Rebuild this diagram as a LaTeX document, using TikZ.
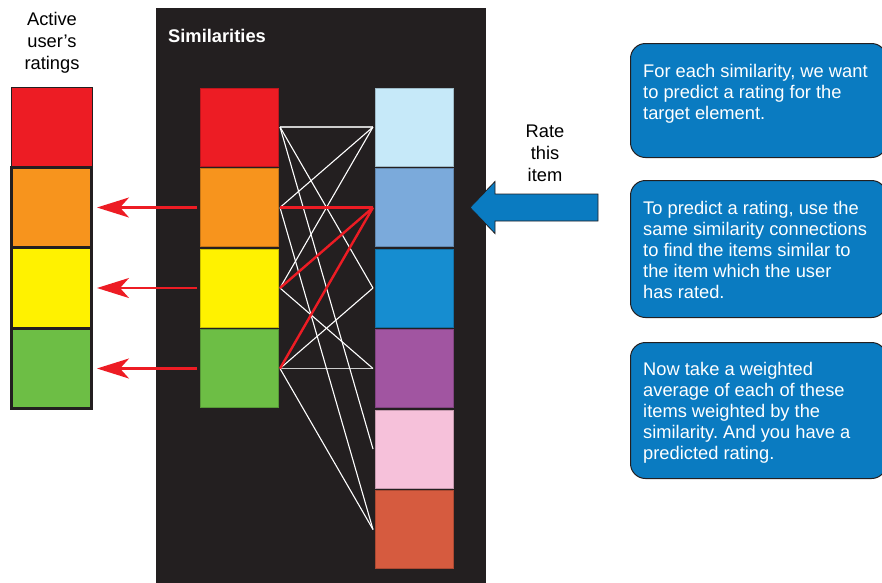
\documentclass[tikz,border=0pt]{standalone}
\usepackage{fontspec}
\setmainfont{Liberation Sans}
\usetikzlibrary{arrows.meta}
\frenchspacing
\definecolor{panel}{HTML}{231F20}
\definecolor{simred}{HTML}{ED1C24}
\definecolor{simorange}{HTML}{F7941D}
\definecolor{simyellow}{HTML}{FFF200}
\definecolor{simgreen}{HTML}{6DBE45}
\definecolor{itemA}{HTML}{C6E9F9}
\definecolor{itemB}{HTML}{7BAADB}
\definecolor{itemC}{HTML}{168DD0}
\definecolor{itemD}{HTML}{A155A1}
\definecolor{itemE}{HTML}{F6C1DA}
\definecolor{itemF}{HTML}{D65B3F}
\definecolor{callblue}{HTML}{0A7BC1}
\newcommand{\bodyfont}{\fontsize{18.3}{21}\selectfont}
\newcommand{\lblfont}{\fontsize{18.3}{22}\selectfont}
\tikzset{
  mcell/.style={rectangle, inner sep=0pt, outer sep=0pt, minimum width=78pt, minimum height=78pt, fill=#1, draw=#1!80!black, line width=0.6pt},
  ucell/.style={rectangle, inner sep=0pt, outer sep=0pt, minimum width=80pt, minimum height=80.5pt, fill=#1, draw=panel, line width=3pt},
  link/.style={draw=white, line width=1.1pt},
  hlink/.style={draw=white!80!black, line width=1.4pt},
  rlink/.style={draw=simred, line width=2.4pt},
  predarrow/.style={draw=simred, line width=2.3pt, -{Stealth[length=32pt,width=20pt,inset=9pt]}},
  notebox/.style={rectangle, rounded corners=15pt, fill=callblue, draw=panel, line width=1pt, minimum width=256pt, anchor=north west, inner sep=0pt},
  notetext/.style={text=white, align=left, anchor=north west, inner sep=0pt, font=\bodyfont},
  lbl/.style={align=center, font=\lblfont, inner sep=0pt}
}
\begin{document}
\begin{tikzpicture}[x=1pt,y=-1pt]
\useasboundingbox (0,0) rectangle (882,582);
\fill[white] (0,0) rectangle (882,582);
\begin{scope}
\clip (0,0) rectangle (882,582);
% dark panel
\fill[panel] (156,8) rectangle (486,586);
\node[anchor=west, text=white, font=\bodyfont\bfseries, inner sep=0pt] (title) at (168,36) {Similarities};

% active user's ratings column
\node[lbl] (active) at (52,43) {Active\\user’s\\ratings};
\node[rectangle, inner sep=0pt, outer sep=0pt, minimum width=81pt, minimum height=80pt, fill=simred, draw=panel, line width=1pt] (u1) at (51.5,127) {};
\node[ucell=simorange] (u2) at (51.5,207.5) {};
\node[ucell=simyellow] (u3) at (51.5,288) {};
\node[ucell=simgreen] (u4) at (51.5,368.5) {};

% similarity column
\node[mcell=simred] (m1) at (239,127) {};
\node[mcell=simorange] (m2) at (239,207.5) {};
\node[mcell=simyellow] (m3) at (239,288) {};
\node[mcell=simgreen] (m4) at (239,368.5) {};

% items column
\node[mcell=itemA] (r1) at (414,127) {};
\node[mcell=itemB] (r2) at (414,207.5) {};
\node[mcell=itemC] (r3) at (414,288) {};
\node[mcell=itemD] (r4) at (414,368.5) {};
\node[mcell=itemE] (r5) at (414,449) {};
\node[mcell=itemF] (r6) at (414,529.5) {};

% link end points
\foreach \i in {1,...,4} {\coordinate (a\i) at ([xshift=2pt]m\i.east);}
\foreach \j in {1,...,6} {\coordinate (b\j) at ([xshift=-2pt]r\j.west);}

% similarity links
\draw[hlink] (a1) -- (b1);
\draw[hlink] (a4) -- (b4);
\draw[link] (a1) -- (b3);
\draw[link] (a1) -- (b5);
\draw[link] (a2) -- (b1);
\draw[link] (a2) -- (b6);
\draw[link] (a3) -- (b1);
\draw[link] (a3) -- (b4);
\draw[link] (a4) -- (b3);
\draw[link] (a4) -- (b6);
\draw[rlink] (a2) -- (b2);
\draw[rlink] (a3) -- (b2);
\draw[rlink] (a4) -- (b2);

% predicted rating arrows
\draw[predarrow] ([xshift=-3pt]m2.west) -- ([xshift=5.5pt]u2.east);
\draw[predarrow] ([xshift=-3pt]m3.west) -- ([xshift=5.5pt]u3.east);
\draw[predarrow] ([xshift=-3pt]m4.west) -- ([xshift=5.5pt]u4.east);

% rate this item
\node[lbl] (rate) at (545,153) {Rate\\this\\item};
\coordinate (tip) at ([xshift=17pt]r2.east);
\filldraw[fill=callblue, draw=panel, line width=0.8pt, line join=miter]
  (tip) -- ++(25,-26) -- ++(0,12.5) -- ++(103,0) -- ++(0,27) -- ++(-103,0) -- ++(0,12.5) -- cycle;

% explanation boxes
\node[notebox, minimum height=114pt] (n1) at (630,43) {};
\node[notetext] (t1) at ([xshift=13pt,yshift=-21pt]n1.north west)
  {For each similarity, we want\\to predict a rating for the\\target element.};
\node[notebox, minimum height=137pt] (n2) at (630,180) {};
\node[notetext] (t2) at ([xshift=13pt,yshift=-21pt]n2.north west)
  {To predict a rating, use the\\same similarity connections\\to find the items similar to\\the item which the user\\has rated.};
\node[notebox, minimum height=136pt] (n3) at (630,342) {};
\node[notetext] (t3) at ([xshift=13pt,yshift=-20pt]n3.north west)
  {Now take a weighted\\average of each of these\\items weighted by the\\similarity. And you have a\\predicted rating.};
\end{scope}
\end{tikzpicture}
\end{document}
